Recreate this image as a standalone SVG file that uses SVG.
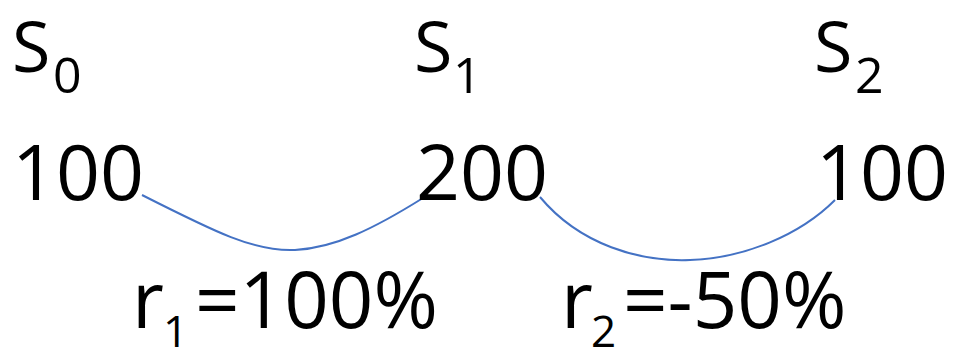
<svg xmlns="http://www.w3.org/2000/svg" width="955" height="350" viewBox="0 0 955 350">
<style>
text{font-family:"Open Sans","Noto Sans","Liberation Sans",sans-serif;fill:#000}
.s{font-size:70px}
.sub{font-size:50px}
.v{font-size:77px}
.r{font-size:78px}
.rs{font-size:44px}
.conn{fill:none;stroke:#4472C4;stroke-width:2}
</style>
<rect width="955" height="350" fill="#fff"/>
<g id="connectors">
<path class="conn" d="M142,195 C215,232 255,252 295,250 C335,248 375,228 423,198"/>
<path class="conn" d="M540,197 C580,245 640,262 690,260 C745,258 800,235 835,200"/>
</g>
<g id="node-s0">
<text class="s" x="12" y="72">S</text><text class="sub" x="53" y="93">0</text>
<text class="v" x="12" y="200">100</text>
</g>
<g id="node-s1">
<text class="s" x="414" y="72">S</text><text class="sub" x="453" y="93">1</text>
<text class="v" x="416" y="200">200</text>
</g>
<g id="node-s2">
<text class="s" x="814" y="72">S</text><text class="sub" x="855" y="93">2</text>
<text class="v" x="816" y="200">100</text>
</g>
<g id="label-r1">
<text class="r" x="132" y="328">r</text><text class="rs" x="163" y="347">1</text>
<text class="r" x="195" y="328">=100%</text>
</g>
<g id="label-r2">
<text class="r" x="561" y="328">r</text><text class="rs" x="591" y="347">2</text>
<text class="r" x="623" y="328">=-50%</text>
</g>
</svg>
